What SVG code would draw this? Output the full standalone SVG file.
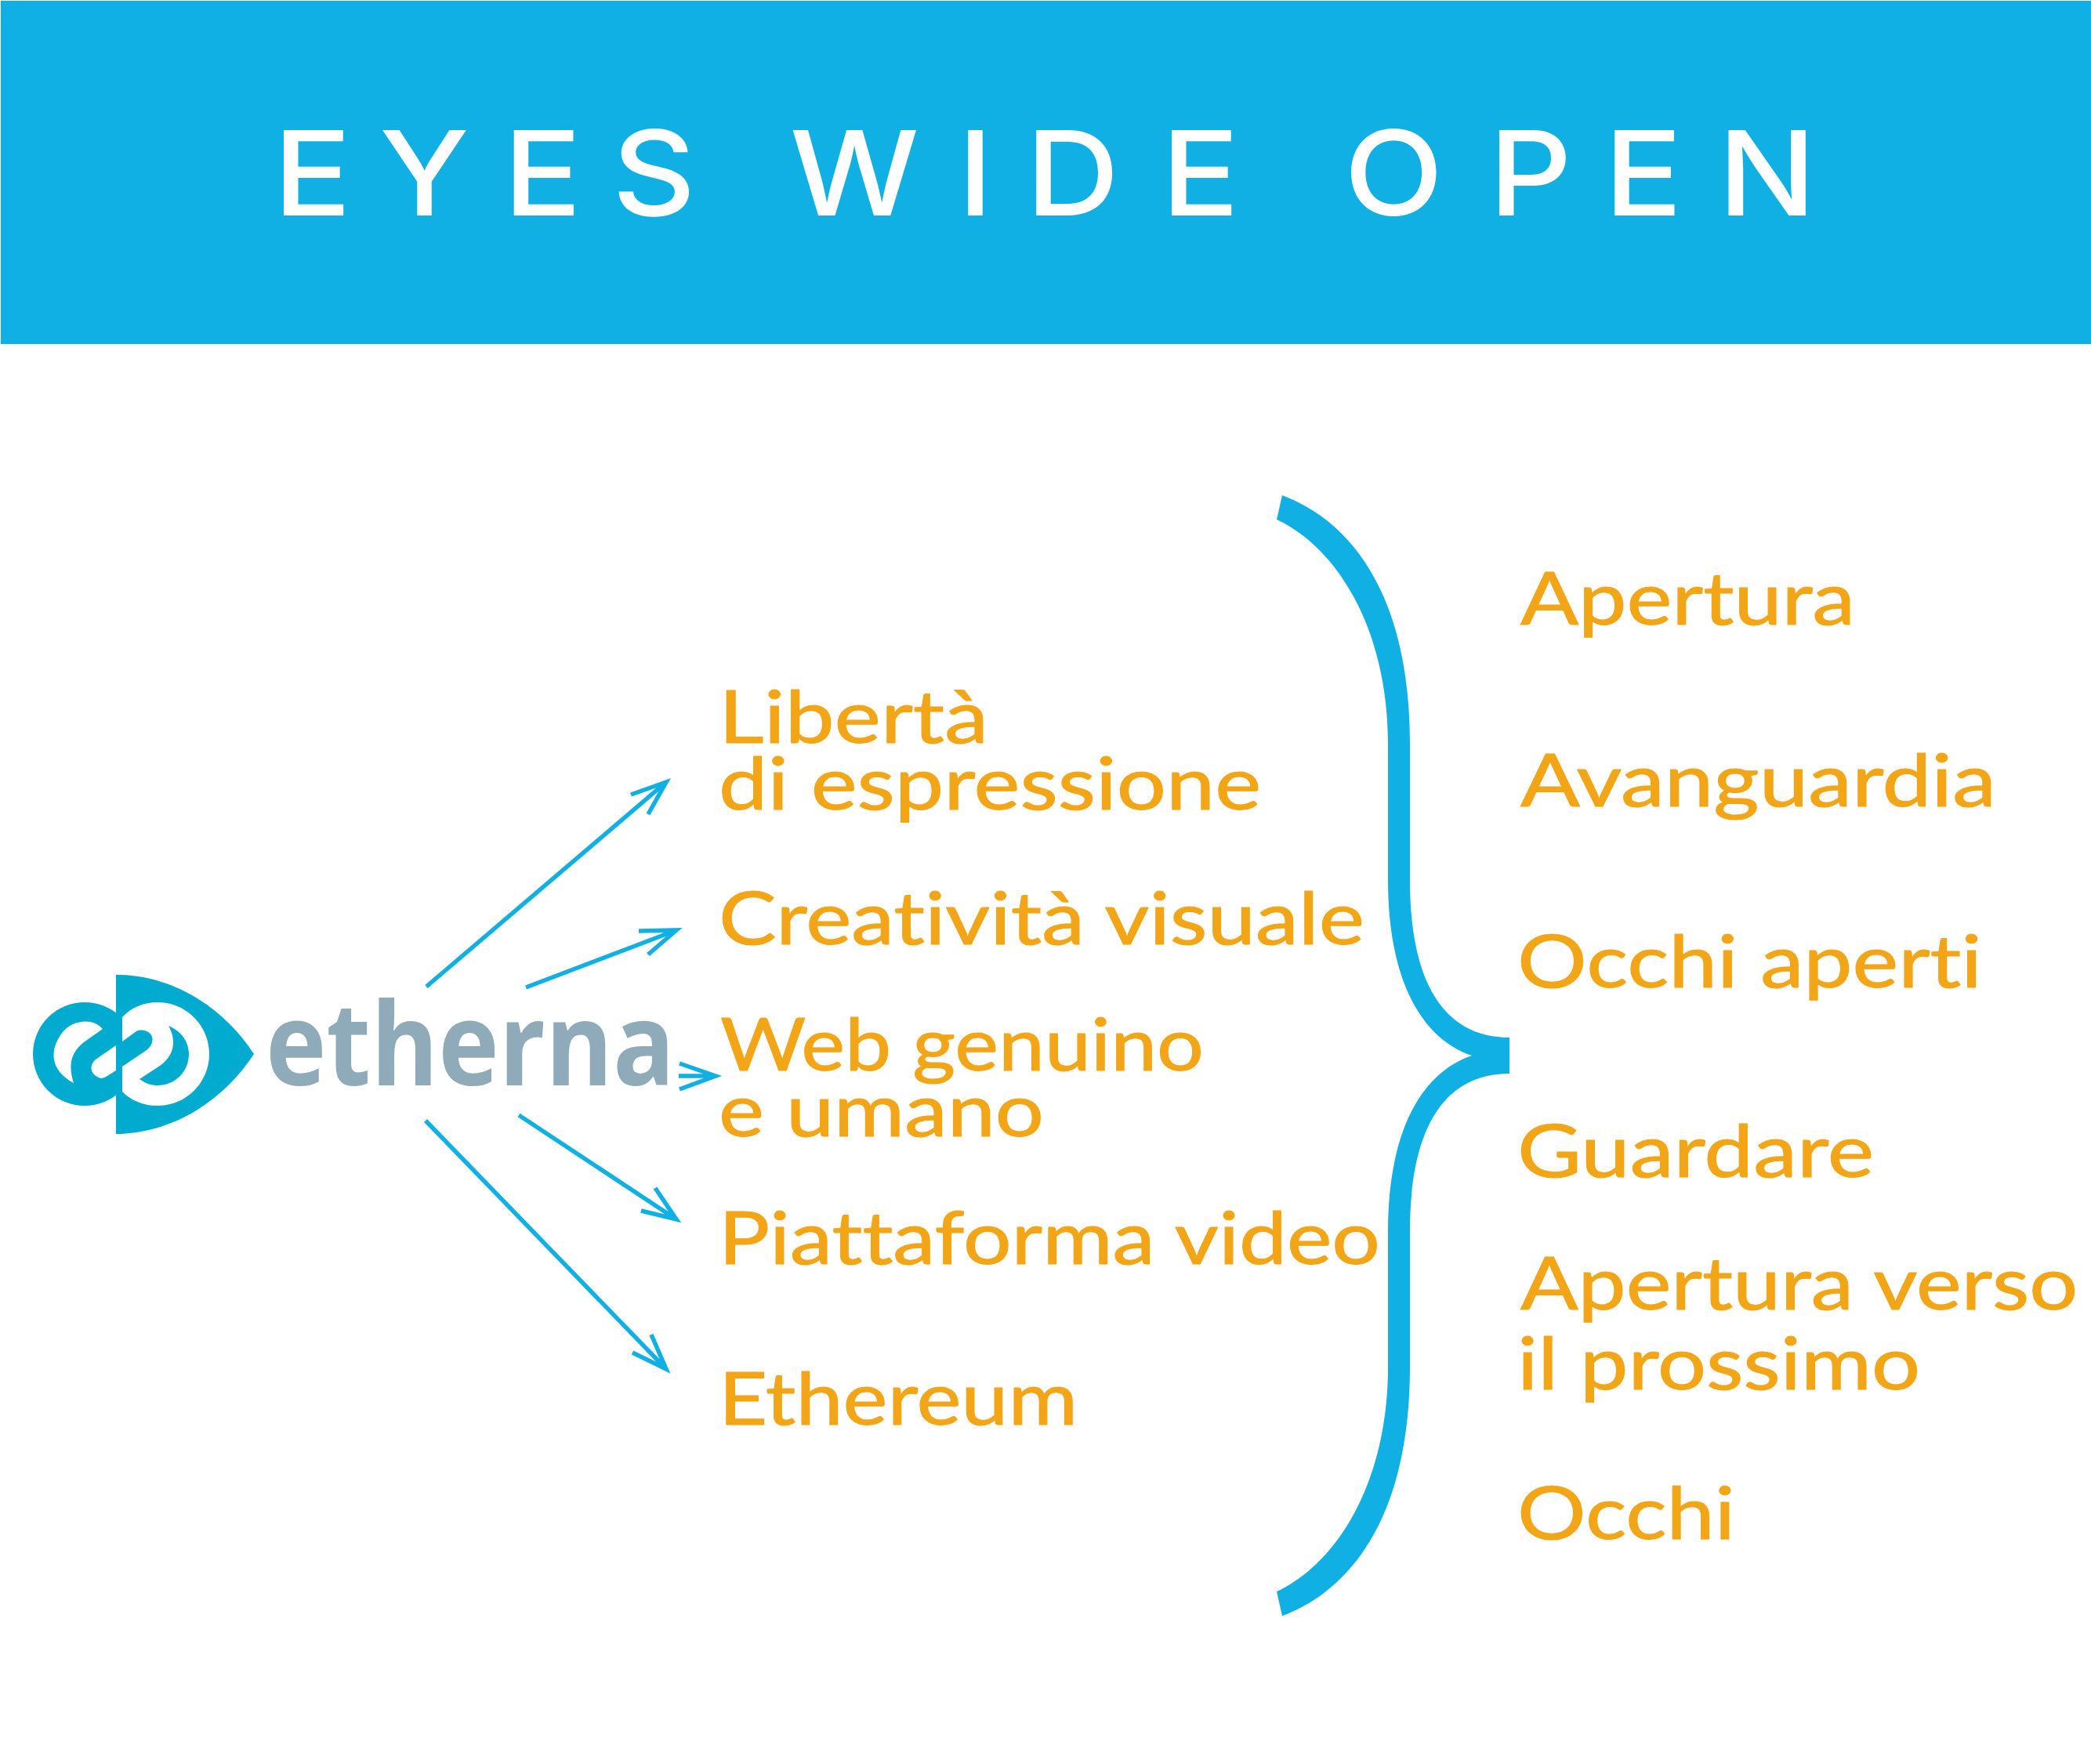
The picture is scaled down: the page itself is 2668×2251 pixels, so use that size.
<svg xmlns="http://www.w3.org/2000/svg" width="2668" height="2251" viewBox="0 0 2668 2251">
<style>
.t{font-family:"Lato","Noto Sans",sans-serif;font-size:93px;fill:#f2a516;stroke:#f2a516;stroke-width:1px;stroke-linejoin:round;font-variant-ligatures:none}
.h{font-family:"Inter","Liberation Sans",sans-serif;font-size:150px;font-weight:500;fill:#fff}
.a{fill:none;stroke:#10b0e4;stroke-width:5.5px;stroke-miterlimit:10}
.logo{fill:#00abcf}
.w{fill:#fff}
</style>
<rect width="2668" height="2251" fill="#fff"/>
<g id="header">
<rect x="1" y="1" width="2667" height="438" fill="#10b0e4"/>
<text class="h" y="275" transform="scale(1.1 1)" x="317 440 584 710 916 1111 1190 1347 1559 1727 1861 1993">EYESWIDEOPEN</text>
</g>
<g id="logo">
<circle class="logo" cx="108" cy="1345" r="66"/>
<path class="logo" d="M148 1243.700C220 1244 285 1285 324 1345C285 1405 220 1446 148 1447Z"/>
<path class="w" d="M131 1313C118 1298 92 1302 80 1317C62 1340 64 1366 94 1382C88 1362 88 1345 107 1330Z"/>
<path class="w" d="M148 1334L122 1352C113 1360 115 1372 129 1376Q133 1376 137 1373L148 1366Z"/>
<path class="w" d="M156 1298C168 1285 184 1279 201 1279C238 1279 267 1309 267 1345C267 1381 238 1411 201 1411C184 1411 168 1405 156 1393L156 1361L187 1340C197 1332 197 1320 187 1316C180 1313 176 1315 174 1316L156 1329Z"/>
<path class="logo" d="M215 1309C224 1325 225 1345 204 1360L178 1377C186 1383 193 1385 201 1385C224 1385 241 1367 241 1345C241 1330 232 1316 215 1309Z"/>
<text y="1385" x="339" textLength="522" lengthAdjust="spacingAndGlyphs" font-family="Open Sans, sans-serif" font-weight="700" font-size="148" fill="#8faab9">etherna</text>
</g>
<g id="connectors">
<path class="a" d="M544 1259L850 998M805 1014L850 998L827 1039"/>
<path class="a" d="M671 1260L863 1187M815 1188L863 1187L827 1218"/>
<path class="a" d="M866 1373L913 1373M867 1357L913 1373L867 1390"/>
<path class="a" d="M662 1423L863 1556M818 1545L863 1556L836 1516"/>
<path class="a" d="M543 1430L850 1747M807 1726L850 1747L831 1703"/>
</g>
<g id="brace">
<path fill="#10b0e4" d="M1636 632C1732 668 1799 770 1799 950L1799 1123C1799 1250 1840 1324 1926 1324L1926 1370C1840 1370 1799 1444 1799 1571L1799 1744C1799 1924 1732 2026 1636 2062L1629 2031C1708 1994 1771 1889 1771 1744L1771 1571C1771 1450 1810 1370 1878 1347C1810 1324 1771 1244 1771 1123L1771 950C1771 805 1708 700 1629 663Z"/>
</g>
<g id="concepts">
<text class="t" x="917" y="948" textLength="344" lengthAdjust="spacingAndGlyphs">Libertà</text>
<text class="t" x="917" y="1033" textLength="692" lengthAdjust="spacingAndGlyphs">di espressione</text>
<text class="t" x="917" y="1205" textLength="824" lengthAdjust="spacingAndGlyphs">Creatività visuale</text>
<text class="t" x="919" y="1366" textLength="617" lengthAdjust="spacingAndGlyphs">Web genuino</text>
<text class="t" x="917" y="1450" textLength="415" lengthAdjust="spacingAndGlyphs">e umano</text>
<text class="t" x="917" y="1613" textLength="844" lengthAdjust="spacingAndGlyphs">Piattaforma video</text>
<text class="t" x="917" y="1818" textLength="458" lengthAdjust="spacingAndGlyphs">Ethereum</text>
</g>
<g id="meanings">
<text class="t" x="1940" y="797" textLength="427" lengthAdjust="spacingAndGlyphs">Apertura</text>
<text class="t" x="1940" y="1029" textLength="607" lengthAdjust="spacingAndGlyphs">Avanguardia</text>
<text class="t" x="1936" y="1260" textLength="593" lengthAdjust="spacingAndGlyphs">Occhi aperti</text>
<text class="t" x="1936" y="1502" textLength="455" lengthAdjust="spacingAndGlyphs">Guardare</text>
<text class="t" x="1940" y="1671" textLength="711" lengthAdjust="spacingAndGlyphs">Apertura verso</text>
<text class="t" x="1936" y="1773" textLength="514" lengthAdjust="spacingAndGlyphs">il prossimo</text>
<text class="t" x="1936" y="1964" textLength="278" lengthAdjust="spacingAndGlyphs">Occhi</text>
</g>
</svg>
